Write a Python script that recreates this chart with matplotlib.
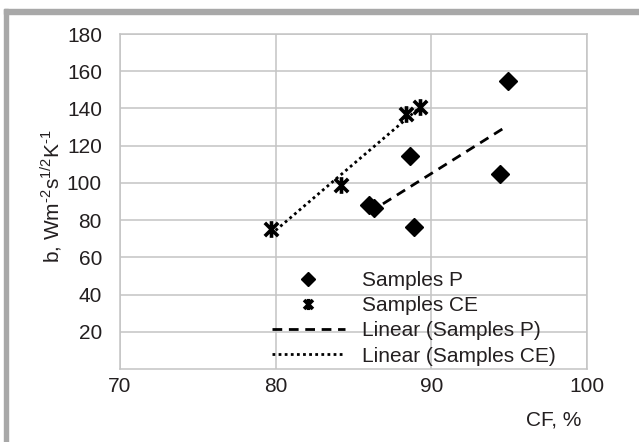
import numpy as np
import matplotlib.pyplot as plt
from matplotlib.path import Path
from matplotlib.patches import Rectangle

# data
p_cf = [86.0, 86.3, 88.6, 88.9, 94.4, 94.9]
p_b = [88.0, 86.5, 114.5, 76.5, 105.0, 155.0]
ce_cf = [79.7, 84.2, 88.4, 89.3]
ce_b = [75.0, 99.0, 137.0, 141.0]

x_ticks = [70, 80, 90, 100]
y_ticks = [20, 40, 60, 80, 100, 120, 140, 160, 180]

plt.rcParams["font.family"] = ["Liberation Sans", "DejaVu Sans"]
plt.rcParams["mathtext.fontset"] = "custom"
plt.rcParams["mathtext.rm"] = "Liberation Sans"
text_color = "#231f20"
grid_color = "#c4c4c4"
fs = 15

# Excel-style asterisk marker
star = Path(
    [(-1, -1), (1, 1), (-1, 1), (1, -1), (0, -1.25), (0, 1.25)],
    [Path.MOVETO, Path.LINETO, Path.MOVETO, Path.LINETO, Path.MOVETO, Path.LINETO],
)

W, H = 639, 442
fig = plt.figure(figsize=(W / 100, H / 100), dpi=100)
ax = fig.add_axes([120 / W, 1 - 369 / H, (587 - 120) / W, (369 - 34) / H])

# outer grey frame (top and left only)
fig.patches.append(Rectangle((4 / W, 1 - 14 / H), 1, 5 / H, transform=fig.transFigure,
                             color="#a8a8a8", zorder=0))
fig.patches.append(Rectangle((4 / W, 0), 4 / W, 1 - 9 / H, transform=fig.transFigure,
                             color="#a8a8a8", zorder=0))

# trend lines
kp = np.polyfit(p_cf, p_b, 1)
xp = np.array([min(p_cf), max(p_cf)])
line_p, = ax.plot(xp, np.polyval(kp, xp), color="black", lw=2.0,
                  dashes=(3.5, 2.4), zorder=3)
kc = np.polyfit(ce_cf, ce_b, 1)
xc = np.array([min(ce_cf), max(ce_cf)])
line_ce, = ax.plot(xc, np.polyval(kc, xc), color="black", lw=2.0,
                   dashes=(1.0, 1.2), zorder=3)

# samples
pts_p, = ax.plot(p_cf, p_b, ls="none", marker="D", ms=9.5, color="black", zorder=4)
pts_ce, = ax.plot(ce_cf, ce_b, ls="none", marker=star, ms=12, mew=2.6,
                  color="black", zorder=4)

ax.set_xlim(70, 100)
ax.set_ylim(0, 180)
ax.set_xticks(x_ticks)
ax.set_yticks(y_ticks)
ax.grid(True, color=grid_color, lw=1.1)
ax.set_axisbelow(True)
for s in ax.spines.values():
    s.set_color(grid_color)
    s.set_linewidth(1.1)
ax.tick_params(length=0, labelsize=fs, labelcolor=text_color)
ax.tick_params(axis="y", pad=13)
ax.tick_params(axis="x", pad=6)

fig.text(51 / W, 1 - 196 / H,
         r"b, Wm$^{\text{-2}}$s$^{\text{1/2}}$K$^{\text{-1}}$",
         rotation=90, ha="center", va="center", fontsize=fs, color=text_color)
fig.text(554 / W, 1 - 420 / H, "CF, %", ha="center", va="center",
         fontsize=fs, color=text_color)

leg = ax.legend([pts_p, pts_ce, line_p, line_ce],
                ["Samples P", "Samples CE", "Linear (Samples P)", "Linear (Samples CE)"],
                loc="upper left", bbox_to_anchor=(272 / W, 1 - 271 / H),
                bbox_transform=fig.transFigure, frameon=False, fontsize=fs,
                handlelength=3.5, handletextpad=0.8, borderpad=0, borderaxespad=0,
                labelspacing=0.3, numpoints=1)
for t in leg.get_texts():
    t.set_color(text_color)
leg.legend_handles[0].set_markersize(7)
leg.legend_handles[1].set_markersize(8)

fig.savefig("out.png", dpi=100)
